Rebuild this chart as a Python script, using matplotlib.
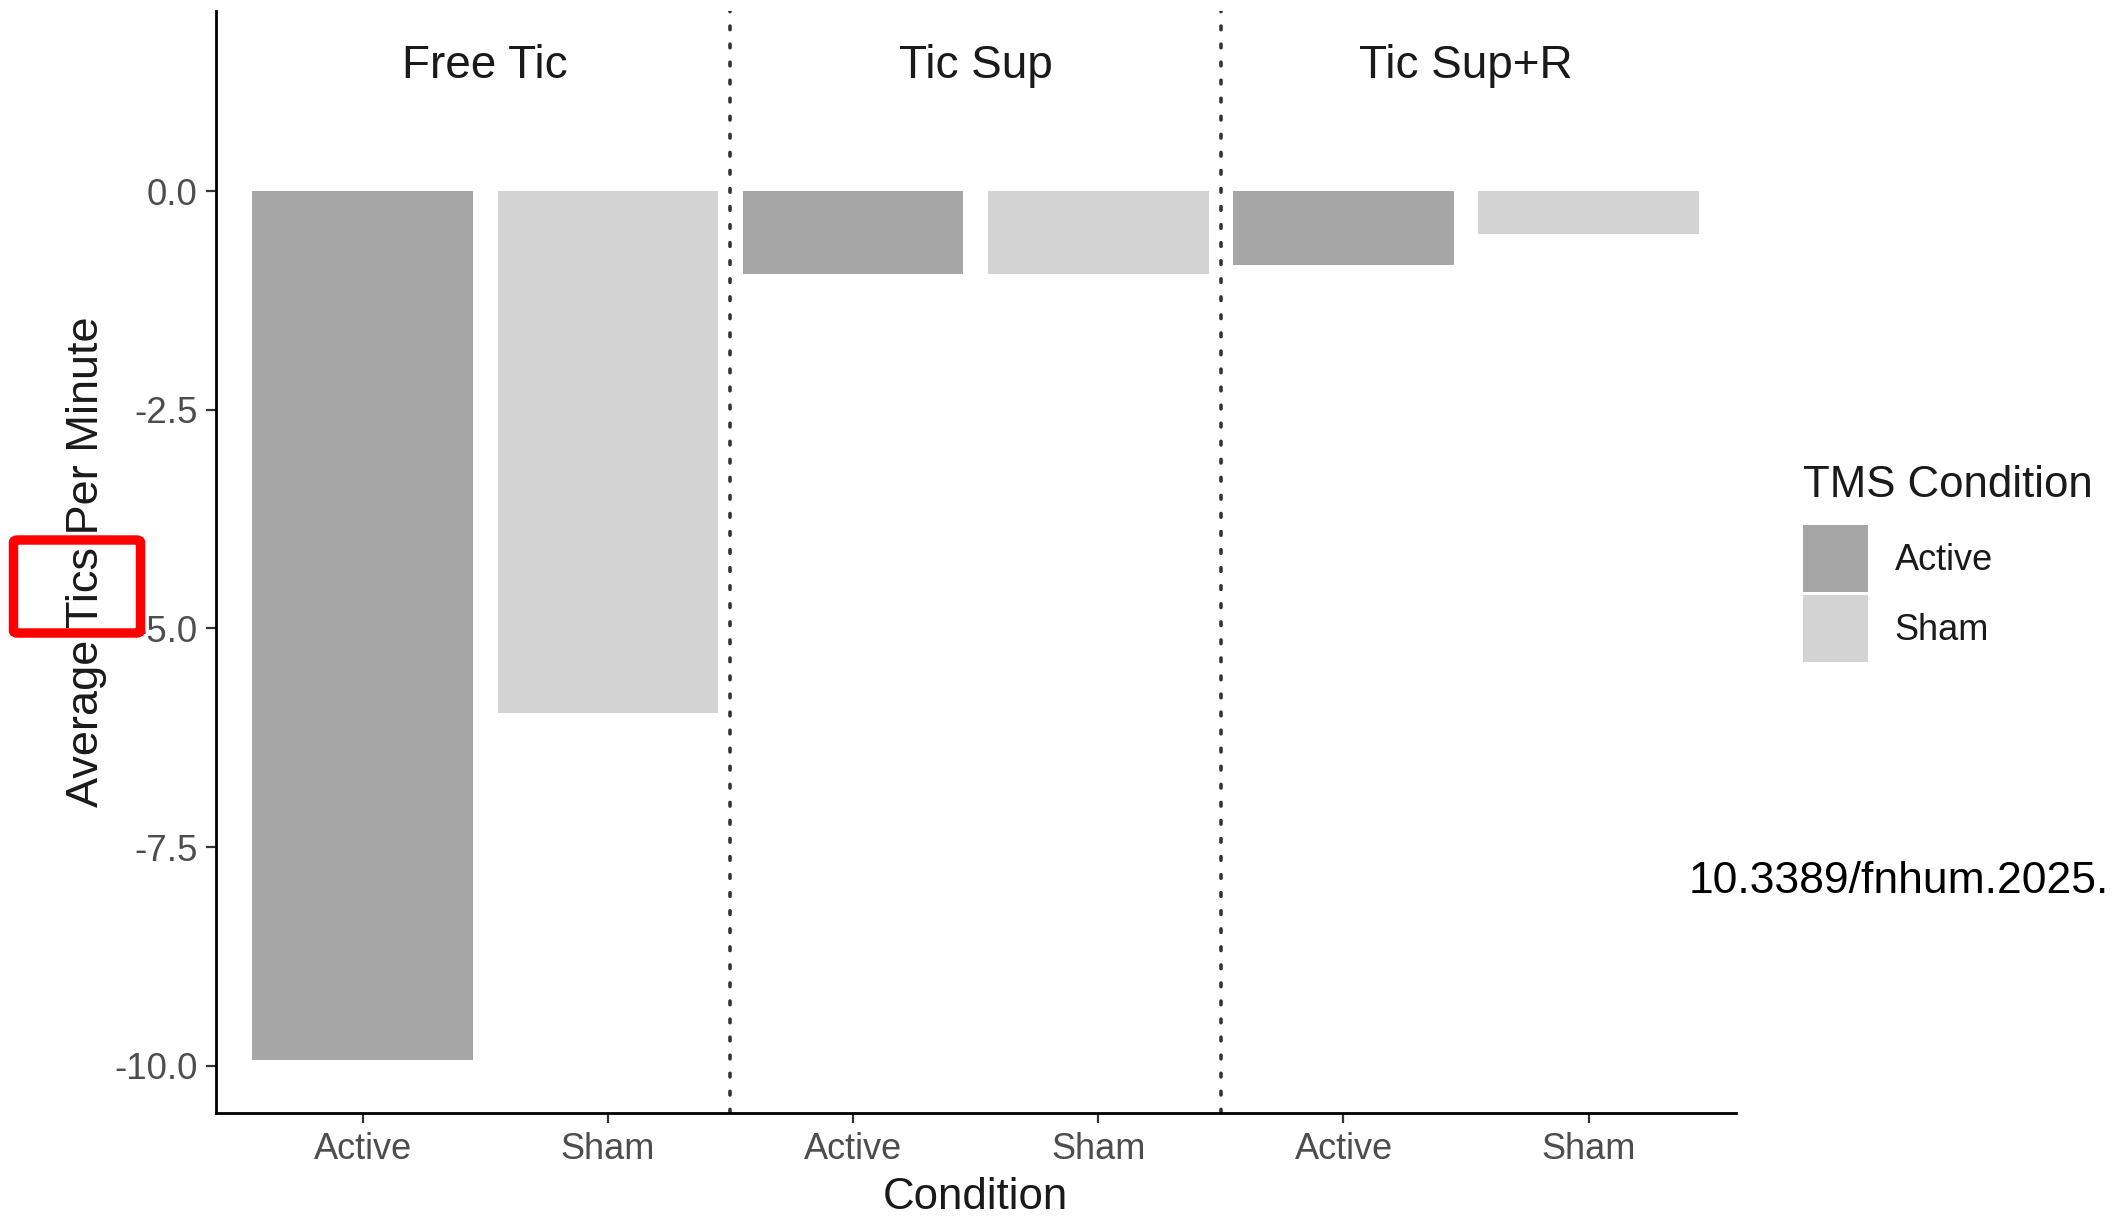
import numpy as np
import matplotlib
matplotlib.use("Agg")
import matplotlib.pyplot as plt
from matplotlib.patches import Patch, FancyBboxPatch

plt.rcParams['font.family'] = ['Liberation Sans', 'DejaVu Sans']

# data
groups = ["Free Tic", "Tic Sup", "Tic Sup+R"]
tms = ["Active", "Sham"]
active_vals = [-9.93, -0.95, -0.85]
sham_vals = [-5.97, -0.95, -0.49]
yticks = [0.0, -2.5, -5.0, -7.5, -10.0]

colors = {"Active": "#a6a6a6", "Sham": "#d3d3d3"}

fig = plt.figure(figsize=(21.13, 12.21), dpi=100)
ax = fig.add_axes([0.102, 0.0885, 0.7195, 0.9025])

xpos = np.arange(1, 2 * len(groups) + 1)
vals = []
labs = []
for a, s in zip(active_vals, sham_vals):
    vals += [a, s]
    labs += tms
bar_colors = [colors[l] for l in labs]
ax.bar(xpos, vals, width=0.9, color=bar_colors, edgecolor='none')

# dotted separators between conditions
for sep in np.arange(2.5, 2 * len(groups), 2):
    ax.axvline(sep, color='#333333', lw=2.6, linestyle=(0, (1, 4)),
               dash_capstyle='round')

# condition labels on top of each block
for i, g in enumerate(groups):
    ax.text(xpos[2 * i:2 * i + 2].mean(), 1.43, g, ha='center', va='center',
            fontsize=33, color='#1a1a1a')

ax.set_xlim(0.4, 6.6)
ax.set_ylim(-10.54, 2.06)
ax.set_xticks(xpos)
ax.set_xticklabels(labs)
ax.set_yticks(yticks)
ax.set_yticklabels([f"{t:.1f}" for t in yticks])
ax.tick_params(axis='both', labelcolor='#4d4d4d', color='#333333',
               length=7, width=1.6, pad=6)
ax.tick_params(axis='x', labelsize=26, pad=7)
ax.tick_params(axis='y', labelsize=26.5)
for side in ['top', 'right']:
    ax.spines[side].set_visible(False)
for side in ['left', 'bottom']:
    ax.spines[side].set_linewidth(2.0)
    ax.spines[side].set_color('black')

ax.set_xlabel("Condition", fontsize=31.5, color='#1a1a1a', labelpad=7)
ax.set_ylabel("Average Tics Per Minute", fontsize=32.5, color='#1a1a1a', labelpad=5)

handles = [Patch(facecolor=colors[t], edgecolor='none', label=t) for t in tms]
leg = fig.legend(handles=handles, title="TMS Condition", loc='upper left',
                 bbox_to_anchor=(0.8446, 0.634), frameon=False, fontsize=26,
                 title_fontsize=31.5, handlelength=1.8, handleheight=2.45,
                 labelspacing=0.1, handletextpad=0.75, borderpad=0,
                 alignment='left')
leg._legend_box.sep = 14
leg.get_title().set_color('#1a1a1a')
for t in leg.get_texts():
    t.set_color('#1a1a1a')

fig.text(1689 / 2113, 1 - 893 / 1221, "10.3389/fnhum.2025.", fontsize=32,
         color='black', ha='left', va='baseline')

# red highlight box around "Tics"
box = FancyBboxPatch((13.5 / 2113, 1 - 633 / 1221), 127 / 2113, 93 / 1221,
                     boxstyle="round,pad=0,rounding_size=0.002",
                     transform=fig.transFigure, fill=False,
                     edgecolor='#ff0000', lw=6.8, zorder=10)
fig.add_artist(box)

fig.savefig("out.png", dpi=100)
